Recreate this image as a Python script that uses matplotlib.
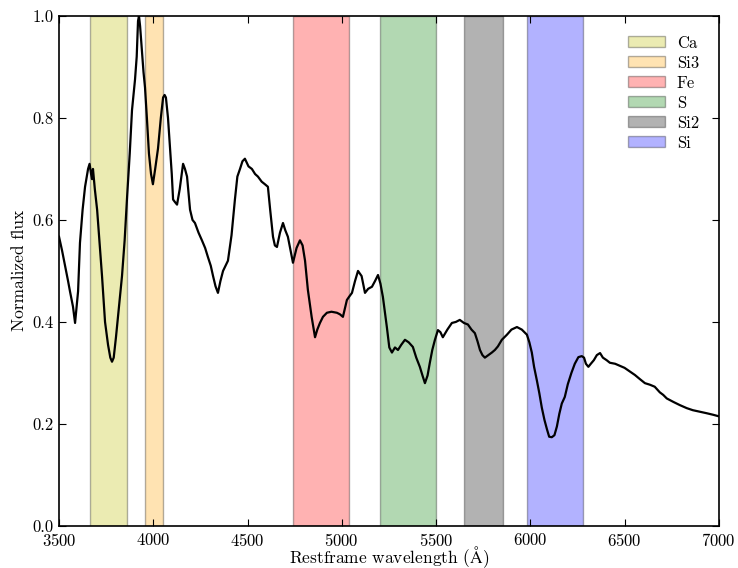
import matplotlib
matplotlib.use("Agg")
import matplotlib.pyplot as plt

# Spectrum
wavelength = [
    3500, 3516, 3532, 3548, 3558, 3574, 3585, 3601, 3611, 3625,
    3638, 3654, 3662, 3670, 3675, 3680, 3690, 3702, 3715, 3728,
    3744, 3760, 3772, 3781, 3790, 3802, 3818, 3834, 3848, 3861,
    3875, 3887, 3903, 3912, 3919, 3924, 3930, 3940, 3948, 3956,
    3966, 3977, 3988, 3998, 4010, 4025, 4040, 4052, 4060, 4067,
    4078, 4089, 4098, 4105, 4115, 4126, 4140, 4158, 4168, 4179,
    4195, 4208, 4221, 4240, 4258, 4275, 4290, 4305, 4317, 4330,
    4343, 4356, 4370, 4383, 4396, 4415, 4433, 4446, 4460, 4473,
    4486, 4505, 4523, 4540, 4555, 4575, 4592, 4608, 4620, 4635,
    4645, 4656, 4672, 4688, 4700, 4714, 4728, 4741, 4760, 4778,
    4792, 4805, 4820, 4840, 4858, 4870, 4884, 4900, 4921, 4945,
    4974, 4990, 5006, 5027, 5040, 5054, 5070, 5086, 5105, 5123,
    5140, 5160, 5176, 5192, 5205, 5218, 5239, 5252, 5266, 5282,
    5298, 5315, 5335, 5355, 5377, 5395, 5414, 5428, 5441, 5455,
    5467, 5480, 5494, 5510, 5523, 5536, 5560, 5584, 5605, 5626,
    5648, 5669, 5688, 5706, 5720, 5733, 5746, 5759, 5778, 5796,
    5812, 5828, 5849, 5876, 5900, 5929, 5955, 5982, 5995, 6008,
    6020, 6035, 6048, 6061, 6075, 6088, 6100, 6114, 6128, 6141,
    6154, 6167, 6183, 6199, 6218, 6236, 6255, 6273, 6285, 6295,
    6308, 6321, 6337, 6353, 6370, 6385, 6405, 6422, 6450, 6475,
    6500, 6528, 6555, 6581, 6608, 6634, 6660, 6687, 6705, 6724,
    6760, 6793, 6830, 6862, 6900, 6936, 6970, 7000]
flux = [
    0.567, 0.54, 0.51, 0.48, 0.46, 0.43, 0.398, 0.46, 0.555, 0.62,
    0.665, 0.70, 0.71, 0.69, 0.68, 0.70, 0.66, 0.62, 0.555, 0.49,
    0.40, 0.355, 0.33, 0.322, 0.33, 0.37, 0.43, 0.49, 0.56, 0.645,
    0.73, 0.815, 0.875, 0.92, 0.99, 1.0, 0.98, 0.93, 0.89, 0.86,
    0.80, 0.73, 0.69, 0.67, 0.70, 0.74, 0.80, 0.84, 0.845, 0.84,
    0.80, 0.74, 0.69, 0.64, 0.635, 0.63, 0.66, 0.71, 0.70, 0.685,
    0.62, 0.60, 0.594, 0.575, 0.56, 0.545, 0.527, 0.51, 0.49, 0.47,
    0.457, 0.48, 0.50, 0.51, 0.52, 0.57, 0.64, 0.685, 0.70, 0.715,
    0.72, 0.705, 0.70, 0.69, 0.685, 0.675, 0.67, 0.665, 0.62, 0.567,
    0.55, 0.547, 0.575, 0.594, 0.58, 0.567, 0.54, 0.516, 0.545, 0.56,
    0.55, 0.52, 0.463, 0.41, 0.37, 0.385, 0.398, 0.41, 0.418, 0.42,
    0.418, 0.415, 0.41, 0.443, 0.45, 0.457, 0.48, 0.50, 0.49, 0.457,
    0.465, 0.469, 0.48, 0.492, 0.475, 0.449, 0.39, 0.35, 0.34, 0.35,
    0.345, 0.355, 0.365, 0.36, 0.351, 0.33, 0.312, 0.295, 0.28, 0.295,
    0.32, 0.345, 0.365, 0.384, 0.38, 0.37, 0.385, 0.398, 0.40, 0.404,
    0.398, 0.395, 0.385, 0.378, 0.362, 0.345, 0.335, 0.33, 0.335, 0.34,
    0.345, 0.352, 0.365, 0.375, 0.385, 0.39, 0.385, 0.375, 0.36, 0.34,
    0.312, 0.285, 0.26, 0.232, 0.208, 0.19, 0.175, 0.174, 0.178, 0.195,
    0.22, 0.24, 0.253, 0.278, 0.30, 0.318, 0.331, 0.333, 0.33, 0.318,
    0.312, 0.318, 0.325, 0.335, 0.339, 0.33, 0.325, 0.32, 0.318, 0.314,
    0.31, 0.303, 0.296, 0.288, 0.28, 0.277, 0.273, 0.262, 0.257, 0.25,
    0.243, 0.237, 0.231, 0.227, 0.224, 0.221, 0.218, 0.215]

# Line-identification bands
band_names = ["Ca", "Si3", "Fe", "S", "Si2", "Si"]
band_lo = [3665, 3955, 4740, 5200, 5650, 5980]
band_hi = [3860, 4050, 5040, 5500, 5855, 6280]
band_colors = ["y", "orange", "r", "g", "k", "b"]

plt.rcParams["font.family"] = ["cmr10", "DejaVu Serif"]
plt.rcParams["mathtext.fontset"] = "cm"
plt.rcParams["axes.formatter.use_mathtext"] = True

fig = plt.figure(figsize=(7.38, 5.68), dpi=100, facecolor="white")
ax = fig.add_axes([0.080, 0.074, 0.894, 0.898])

for name, lo, hi, c in zip(band_names, band_lo, band_hi, band_colors):
    ax.axvspan(lo, hi, facecolor=c, edgecolor="k", alpha=0.3, lw=1.0, label=name)

ax.plot(wavelength, flux, color="k", lw=1.6)

ax.set_xlim(3500, 7000)
ax.set_ylim(0.0, 1.0)
ax.set_xticks(range(3500, 7001, 500))
ax.set_yticks([0.0, 0.2, 0.4, 0.6, 0.8, 1.0])
ax.set_yticklabels(["0.0", "0.2", "0.4", "0.6", "0.8", "1.0"])
ax.tick_params(direction="in", top=True, right=True, length=5, width=0.8,
               labelsize=12, pad=4)
for s in ax.spines.values():
    s.set_linewidth(1.2)

ax.set_xlabel(r"Restframe wavelength ($\mathrm{\AA}$)", fontsize=12.5)
ax.xaxis.set_label_coords(0.5, -0.0725, transform=ax.transAxes)
ax.xaxis.label.set_va("baseline")
ax.set_ylabel("Normalized flux", fontsize=12.5, labelpad=4)

ax.legend(loc="upper right", frameon=False, fontsize=12, handlelength=2.2,
          handleheight=0.65, labelspacing=0.28, handletextpad=0.7,
          borderaxespad=0.0, bbox_to_anchor=(0.98, 0.975))

fig.savefig("out.png", dpi=100, facecolor="white")
